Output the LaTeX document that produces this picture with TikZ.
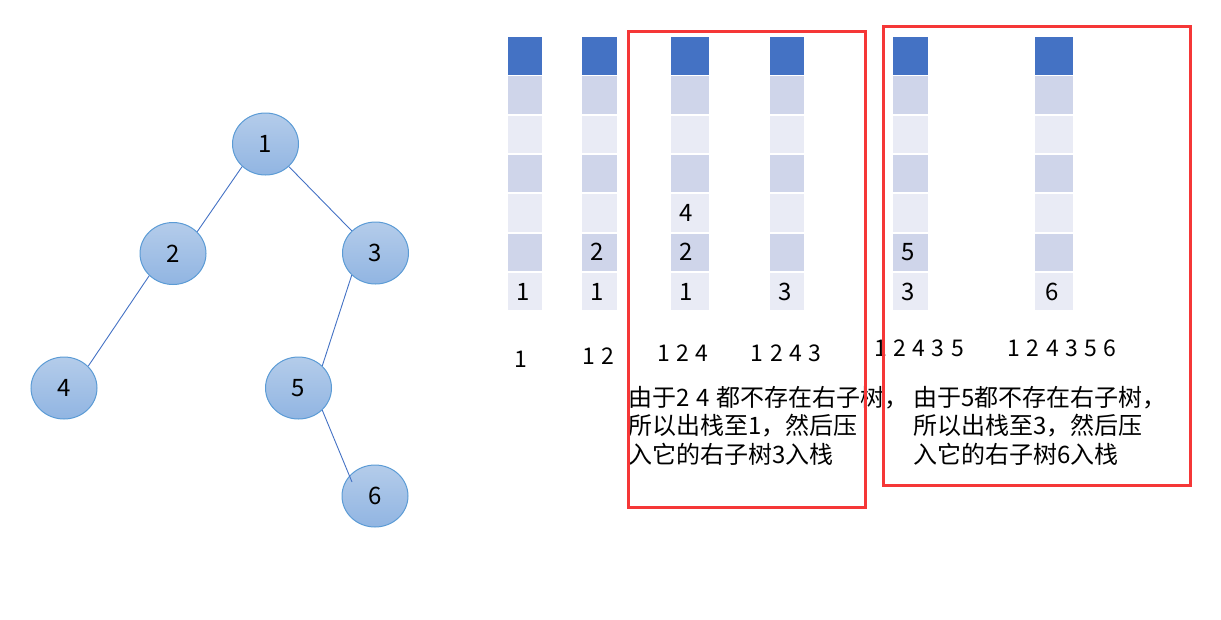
\documentclass[tikz,border=0pt]{standalone}
\usepackage{fontspec}
\setmainfont{Noto Sans CJK SC}[WordSpace=1.25]
\usetikzlibrary{shapes.geometric,positioning}
\definecolor{treefilltop}{RGB}{180,204,234}
\definecolor{treefillbot}{RGB}{145,181,226}
\definecolor{treeborder}{RGB}{91,155,213}
\definecolor{treeedge}{RGB}{68,114,196}
\definecolor{stackhead}{RGB}{68,114,196}
\definecolor{stackdark}{RGB}{207,213,234}
\definecolor{stacklight}{RGB}{233,235,245}
\definecolor{framered}{RGB}{245,55,55}
\newcommand\numsize{\fontsize{24}{28}\selectfont}
\newcommand\seqsize{\fontsize{23}{27}\selectfont}
\newcommand\notesize{\fontsize{24}{28.5}\selectfont}

\begin{document}
\begin{tikzpicture}[x=1pt, y=-1pt,
  treenode/.style={ellipse, draw=treeborder, line width=1pt, top color=treefilltop,
    bottom color=treefillbot, minimum width=66pt, minimum height=62pt, inner sep=0pt,
    font=\numsize},
  branch/.style={draw=treeedge, line width=0.9pt},
  cell/.style={rectangle, minimum height=37.5pt, inner sep=0pt},
  val/.style={inner sep=0pt, font=\numsize},
  seqlabel/.style={inner sep=0pt, font=\seqsize},
  note/.style={inner sep=0pt, align=left, font=\notesize},
  redframe/.style={draw=framered, line width=3pt}
]
  \useasboundingbox (0,0) rectangle (1221,619);

  % binary tree
  \node[treenode] (n1) at (265.5,144) {1};
  \node[treenode] (n2) at (173,253.5) {2};
  \node[treenode] (n3) at (375.5,253) {3};
  \node[treenode] (n4) at (64,388) {4};
  \node[treenode] (n5) at (298.5,388) {5};
  \node[treenode] (n6) at (375,496) {6};

  \draw[branch] (n1.224) -- (n2.42);
  \draw[branch] (n1.316) -- (n3.137);
  \draw[branch] (n2.223) -- (n4.42);
  \draw[branch] (n3.223) -- (n5.43);
  \draw[branch] (n5.317) -- ([shift={(-23,-14)}]n6.center);

  % stacks
  \foreach \col/\cx/\cw in {1/525/34, 2/599.5/35, 3/690/38, 4/787/34, 5/910.5/35, 6/1054/38}{
    \foreach \k in {0,...,6}{
      \ifnum\k=0 \def\cellfill{stackhead}\else\ifodd\k \def\cellfill{stackdark}\else\def\cellfill{stacklight}\fi\fi
      \node[cell, minimum width=\cw pt, fill=\cellfill] (st\col-\k) at (\cx,{55.75+39.3*\k}) {};
    }
  }

  % stack contents
  \node[val, right=8pt of st1-6.west] (v1a) {1};
  \node[val, right=8pt of st2-6.west] (v2a) {1};
  \node[val, right=8pt of st2-5.west] (v2b) {2};
  \node[val, right=8pt of st3-6.west] (v3a) {1};
  \node[val, right=8pt of st3-5.west] (v3b) {2};
  \node[val, right=8pt of st3-4.west] (v3c) {4};
  \node[val, right=8pt of st4-6.west] (v4a) {3};
  \node[val, right=8pt of st5-6.west] (v5a) {3};
  \node[val, right=8pt of st5-5.west] (v5b) {5};
  \node[val, right=10pt of st6-6.west] (v6a) {6};

  % visit order
  \node[seqlabel] (lb1) at (521,359) {1};
  \node[seqlabel] (lb2) at (598,356) {1 2};
  \node[seqlabel] (lb3) at (683,353) {1 2 4};
  \node[seqlabel] (lb4) at (786,353) {1 2 4 3};
  \node[seqlabel] (lb5) at (919,348) {1 2 4 3 5};
  \node[seqlabel] (lb6) at (1062,348) {1 2 4 3 5 6};

  % notes
  \node[note, anchor=north west] (note1) at (628,386)
    {由于2 4 都不存在右子树，\\所以出栈至1，然后压\\入它的右子树3入栈};
  \node[note, anchor=north west] (note2) at (913,386)
    {由于5都不存在右子树，\\所以出栈至3，然后压\\入它的右子树6入栈};

  % red frames
  \draw[redframe] (628,31) rectangle (865,507);
  \draw[redframe] (883,26) rectangle (1190,485);
\end{tikzpicture}
\end{document}
